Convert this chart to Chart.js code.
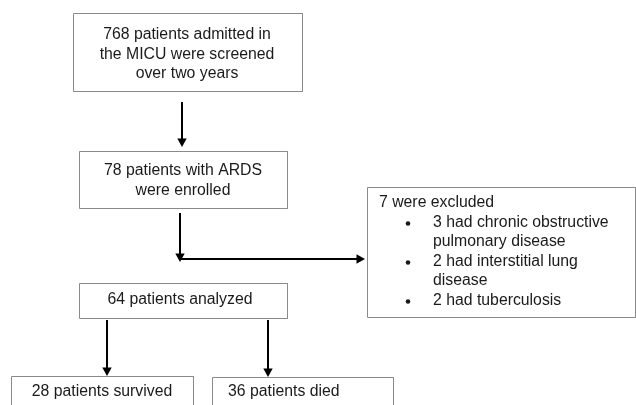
<!DOCTYPE html>
<html>
<head>
<meta charset="utf-8">
<script src="https://cdn.jsdelivr.net/npm/chart.js@4/dist/chart.umd.min.js"></script>
<style>
  html, body { margin: 0; padding: 0; background: #fff; }
  #flow { display: block; }
</style>
</head>
<body>
<canvas id="flow" width="636" height="405"></canvas>
<script>
// flowchart content
const stepLabels = [
  ['768 patients admitted in', 'the MICU were screened', 'over two years'],
  ['78 patients with ARDS', 'were enrolled'],
  ['7 were excluded'],
  ['64 patients analyzed'],
  ['28 patients survived'],
  ['36 patients died']
];
const exclusionReasons = [
  ['3 had chronic obstructive', 'pulmonary disease'],
  ['2 had interstitial lung', 'disease'],
  ['2 had tuberculosis']
];

// layout (page units, y grows downward)
const boxes = [
  { l: 73, t: 13, r: 302, b: 91, align: 'center', cx: 187, y0: 35 },
  { l: 79, t: 151, r: 287, b: 208, align: 'center', cx: 183, y0: 171 },
  { l: 367, t: 187, r: 635, b: 317, align: 'left', cx: 379, y0: 203 },
  { l: 79, t: 283, r: 287, b: 318, align: 'center', cx: 180, y0: 300 },
  { l: 11, t: 376, r: 193, b: 412, align: 'center', cx: 102, y0: 392 },
  { l: 212, t: 377, r: 393, b: 412, align: 'left', cx: 228, y0: 392 }
];
const arrows = [
  { x1: 182, y1: 102, x2: 182, y2: 147 },
  { x1: 180, y1: 213, x2: 180, y2: 262 },
  { x1: 180, y1: 259, x2: 365, y2: 259 },
  { x1: 107, y1: 320, x2: 107, y2: 376 },
  { x1: 268, y1: 320, x2: 268, y2: 377 }
];
const lineGap = 19.5;

const datasets = [];
boxes.forEach(function (b) {
  const l = b.l + 0.5, r = b.r + 0.5, t = b.t + 0.5, bt = b.b + 0.5;
  datasets.push({
    data: [{x: l, y: t}, {x: r, y: t}, {x: r, y: bt}, {x: l, y: bt}, {x: l, y: t}],
    borderColor: '#8a8a8a', borderWidth: 1, pointRadius: 0, showLine: true, fill: false
  });
});
arrows.forEach(function (a) {
  // stop the shaft short of the tip so the head stays sharp
  const dx = Math.sign(a.x2 - a.x1), dy = Math.sign(a.y2 - a.y1);
  datasets.push({
    data: [{x: a.x1, y: a.y1}, {x: a.x2 - dx * 6, y: a.y2 - dy * 6}],
    borderColor: '#000', borderWidth: 2, pointRadius: 0, showLine: true, fill: false
  });
});

const flowText = {
  id: 'flowText',
  afterDatasetsDraw(chart) {
    const ctx = chart.ctx;
    const xs = chart.scales.x, ys = chart.scales.y;
    ctx.save();
    // arrow heads
    ctx.fillStyle = '#000';
    arrows.forEach(function (a) {
      const tx = xs.getPixelForValue(a.x2), ty = ys.getPixelForValue(a.y2);
      const ang = Math.atan2(ty - ys.getPixelForValue(a.y1), tx - xs.getPixelForValue(a.x1));
      ctx.save();
      ctx.translate(tx, ty);
      ctx.rotate(ang);
      ctx.beginPath();
      ctx.moveTo(0, 0);
      ctx.lineTo(-8.5, -4.7);
      ctx.lineTo(-8.5, 4.7);
      ctx.closePath();
      ctx.fill();
      ctx.restore();
    });
    // box labels
    ctx.fillStyle = '#1a1a1a';
    ctx.font = '15.8px "Liberation Sans", Arial, sans-serif';
    ctx.textBaseline = 'middle';
    stepLabels.forEach(function (lines, i) {
      const b = boxes[i];
      ctx.textAlign = b.align;
      lines.forEach(function (s, k) {
        ctx.fillText(s, xs.getPixelForValue(b.cx), ys.getPixelForValue(b.y0 + k * lineGap));
      });
    });
    // bulleted exclusion reasons inside box 3
    const ex = boxes[2];
    let row = 1;
    ctx.textAlign = 'left';
    exclusionReasons.forEach(function (lines) {
      const by = ys.getPixelForValue(ex.y0 + row * lineGap);
      ctx.beginPath();
      ctx.arc(xs.getPixelForValue(408), by + 1, 2.3, 0, Math.PI * 2);
      ctx.fill();
      lines.forEach(function (s) {
        ctx.fillText(s, xs.getPixelForValue(433), ys.getPixelForValue(ex.y0 + row * lineGap));
        row++;
      });
    });
    ctx.restore();
  }
};

new Chart(document.getElementById('flow'), {
  type: 'scatter',
  data: { datasets: datasets },
  options: {
    responsive: false,
    animation: false,
    events: [],
    layout: { padding: 0 },
    plugins: { legend: { display: false }, tooltip: { enabled: false } },
    scales: {
      x: { type: 'linear', min: 0, max: 636, display: false },
      y: { type: 'linear', min: 0, max: 405, reverse: true, display: false }
    }
  },
  plugins: [flowText]
});
</script>
</body>
</html>
